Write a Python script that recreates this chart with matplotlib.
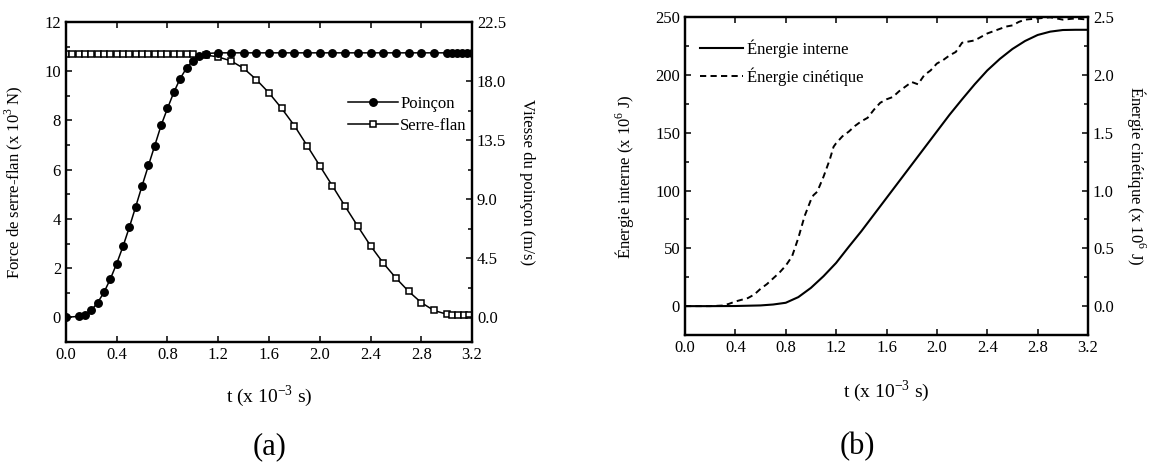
import numpy as np
import matplotlib
matplotlib.use("Agg")
from matplotlib import pyplot as plt
from matplotlib.ticker import MultipleLocator, FormatStrFormatter

plt.rcParams['font.family'] = ['Liberation Serif', 'DejaVu Serif']
plt.rcParams['mathtext.fontset'] = 'custom'
plt.rcParams['mathtext.rm'] = 'Liberation Serif'
plt.rcParams['font.size'] = 12

# (a) vitesse du poinçon (m/s) et force de serre-flan (x 10^3 N)
t_poincon = [0.0, 0.1, 0.15, 0.2, 0.25, 0.3, 0.35, 0.4, 0.45, 0.5, 0.55, 0.6, 0.65,
             0.7, 0.75, 0.8, 0.85, 0.9, 0.95, 1.0, 1.05, 1.1, 1.2, 1.3, 1.4, 1.5,
             1.6, 1.7, 1.8, 1.9, 2.0, 2.1, 2.2, 2.3, 2.4, 2.5, 2.6, 2.7, 2.8, 2.9,
             3.0, 3.04, 3.08, 3.12, 3.16, 3.2]
v_poincon = [0.0, 0.08, 0.19, 0.54, 1.13, 1.91, 2.93, 4.1, 5.42, 6.88, 8.44, 10.03,
             11.57, 13.09, 14.63, 15.92, 17.14, 18.19, 18.99, 19.56, 19.89, 20.1,
             20.15, 20.15, 20.15, 20.15, 20.15, 20.15, 20.15, 20.15, 20.15, 20.15,
             20.15, 20.15, 20.15, 20.15, 20.15, 20.15, 20.15, 20.15, 20.15, 20.15,
             20.15, 20.15, 20.15, 20.15]

t_serre = [0.0, 0.05, 0.1, 0.15, 0.2, 0.25, 0.3, 0.35, 0.4, 0.45, 0.5, 0.55, 0.6,
           0.65, 0.7, 0.75, 0.8, 0.85, 0.9, 0.95, 1.0, 1.1, 1.2, 1.3, 1.4, 1.5,
           1.6, 1.7, 1.8, 1.9, 2.0, 2.1, 2.2, 2.3, 2.4, 2.5, 2.6, 2.7, 2.8, 2.9,
           3.0, 3.045, 3.09, 3.135, 3.18]
f_serre = [10.68, 10.68, 10.68, 10.68, 10.68, 10.68, 10.68, 10.68, 10.68, 10.68,
           10.68, 10.68, 10.68, 10.68, 10.68, 10.68, 10.68, 10.68, 10.68, 10.68,
           10.68, 10.66, 10.58, 10.42, 10.12, 9.66, 9.12, 8.49, 7.79, 6.98, 6.16,
           5.34, 4.51, 3.7, 2.91, 2.21, 1.6, 1.06, 0.6, 0.28, 0.13, 0.08, 0.08,
           0.08, 0.1]

# (b) énergies
t_interne = [0.0, 0.2, 0.4, 0.6, 0.7, 0.8, 0.9, 1.0, 1.1, 1.2, 1.3, 1.4, 1.5, 1.6,
             1.7, 1.8, 1.9, 2.0, 2.1, 2.2, 2.3, 2.4, 2.5, 2.6, 2.7, 2.8, 2.9, 3.0,
             3.1, 3.2]
e_interne = [0.0, 0.0, 0.1, 0.6, 1.4, 2.9, 7.8, 15.8, 25.9, 37.4, 51.3, 64.8, 79.2,
             93.6, 108.0, 122.4, 136.8, 151.2, 165.6, 179.0, 192.0, 204.0, 214.0,
             222.6, 229.5, 234.7, 237.6, 239.0, 239.2, 239.2]

t_cinetique = [0.0, 0.2, 0.3, 0.35, 0.4, 0.5, 0.55, 0.6, 0.65, 0.7, 0.75, 0.8, 0.85,
               0.9, 0.95, 1.0, 1.02, 1.05, 1.1, 1.15, 1.18, 1.2, 1.25, 1.3, 1.35,
               1.4, 1.45, 1.5, 1.55, 1.6, 1.65, 1.7, 1.75, 1.8, 1.85, 1.9, 1.95,
               2.0, 2.05, 2.1, 2.15, 2.2, 2.25, 2.3, 2.35, 2.4, 2.45, 2.5, 2.55,
               2.6, 2.65, 2.7, 2.8, 2.9, 3.0, 3.1, 3.2]
e_cinetique = [0.0, 0.0, 0.005, 0.02, 0.04, 0.07, 0.1, 0.15, 0.19, 0.24, 0.29, 0.35,
               0.43, 0.59, 0.78, 0.92, 0.96, 0.99, 1.12, 1.27, 1.38, 1.41, 1.47,
               1.51, 1.56, 1.6, 1.63, 1.7, 1.76, 1.79, 1.81, 1.86, 1.9, 1.94, 1.92,
               2.0, 2.04, 2.1, 2.13, 2.17, 2.2, 2.28, 2.29, 2.3, 2.33, 2.36, 2.38,
               2.4, 2.42, 2.43, 2.46, 2.48, 2.49, 2.5, 2.48, 2.49, 2.48]

fig = plt.figure(figsize=(11.51, 4.69), dpi=100)


def style(ax):
    ax.tick_params(which='both', direction='in', labelsize=12, width=1.1)
    ax.tick_params(which='major', length=4.5)
    ax.tick_params(which='minor', length=2.8)
    for s in ax.spines.values():
        s.set_linewidth(1.6)


# ---- (a)
ax1 = fig.add_axes([0.0573, 0.2708, 0.3528, 0.6823])
ax1r = ax1.twinx()
l_serre, = ax1.plot(t_serre, f_serre, color='black', lw=1.1, marker='s', ms=4.3,
                    mfc='white', mec='black', mew=1.1, label='Serre-flan')
l_poin, = ax1r.plot(t_poincon, v_poincon, color='black', lw=1.1, marker='o', ms=5.4,
                    label='Poinçon')
ax1.set_xlim(0, 3.2)
ax1.set_ylim(-1, 12)
ax1r.set_ylim(-1.875, 22.5)
ax1.xaxis.set_major_locator(MultipleLocator(0.4))
ax1.xaxis.set_major_formatter(FormatStrFormatter('%.1f'))
ax1.yaxis.set_major_locator(MultipleLocator(2))
ax1.yaxis.set_minor_locator(MultipleLocator(1))
ax1r.yaxis.set_major_locator(MultipleLocator(4.5))
ax1r.yaxis.set_minor_locator(MultipleLocator(2.25))
ax1r.yaxis.set_major_formatter(FormatStrFormatter('%.1f'))
ax1.tick_params(top=True)
style(ax1)
style(ax1r)
ax1.set_xlabel('t (x 10$^{-3}$ s)', fontsize=14)
ax1.xaxis.set_label_coords(0.5, -0.13)
ax1.set_ylabel('Force de serre-flan (x 10$^{3}$ N)', fontsize=12)
ax1.yaxis.set_label_coords(-0.1, 0.5)
ax1r.set_ylabel('Vitesse du poinçon (m/s)', fontsize=12, rotation=270)
ax1r.yaxis.set_label_coords(1.155, 0.5)
ax1.legend([l_poin, l_serre], ['Poinçon', 'Serre-flan'], loc='upper left',
           bbox_to_anchor=(0.673, 0.795), frameon=False, handlelength=3.0,
           handletextpad=0.15, labelspacing=0.35, borderpad=0, fontsize=12)

# ---- (b)
ax2 = fig.add_axes([0.5951, 0.2857, 0.3502, 0.6774])
ax2r = ax2.twinx()
l_int, = ax2.plot(t_interne, e_interne, color='black', lw=1.5,
                  label='Énergie interne')
l_cin, = ax2r.plot(t_cinetique, e_cinetique, color='black', lw=1.4,
                   dashes=(3.2, 2.2), label='Énergie cinétique')
ax2.set_xlim(0, 3.2)
ax2.set_ylim(-25, 250)
ax2r.set_ylim(-0.25, 2.5)
ax2.xaxis.set_major_locator(MultipleLocator(0.4))
ax2.xaxis.set_major_formatter(FormatStrFormatter('%.1f'))
ax2.yaxis.set_major_locator(MultipleLocator(50))
ax2.yaxis.set_minor_locator(MultipleLocator(25))
ax2r.yaxis.set_major_locator(MultipleLocator(0.5))
ax2r.yaxis.set_minor_locator(MultipleLocator(0.25))
ax2r.yaxis.set_major_formatter(FormatStrFormatter('%.1f'))
ax2.tick_params(top=True)
style(ax2)
style(ax2r)
ax2.set_xlabel('t (x 10$^{-3}$ s)', fontsize=14)
ax2.xaxis.set_label_coords(0.5, -0.135)
ax2.set_ylabel('Énergie interne (x 10$^{6}$ J)', fontsize=12)
ax2.yaxis.set_label_coords(-0.122, 0.5)
ax2r.set_ylabel('Énergie cinétique (x 10$^{6}$ J)', fontsize=12, rotation=270)
ax2r.yaxis.set_label_coords(1.149, 0.5)
ax2.legend([l_int, l_cin], ['Énergie interne', 'Énergie cinétique'],
           loc='upper left', bbox_to_anchor=(0.017, 0.957), frameon=False,
           handlelength=2.6, handletextpad=0.2, labelspacing=0.6, borderpad=0,
           fontsize=12)

fig.text(270 / 1151, 1 - 447 / 469, '(a)', fontsize=22, ha='center', va='center')
fig.text(857 / 1151, 1 - 447 / 469, '(b)', fontsize=22, ha='center', va='center')

fig.savefig('out.png', dpi=100)
